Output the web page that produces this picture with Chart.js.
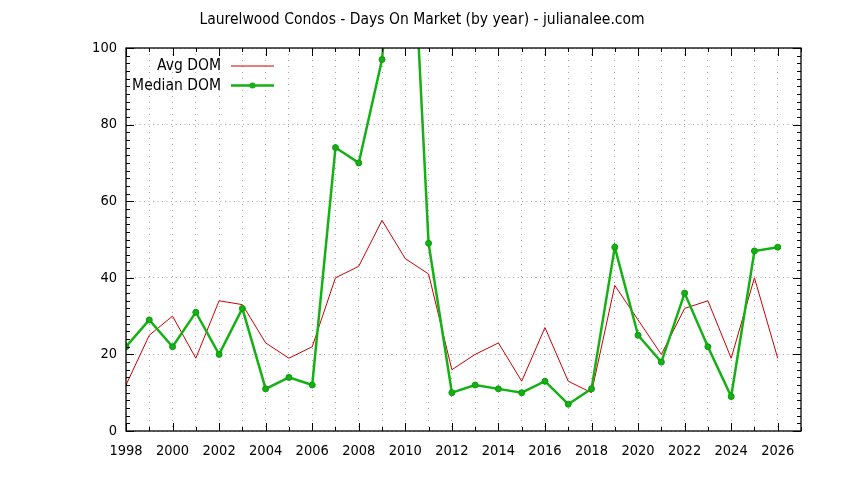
<!DOCTYPE html>
<html>
<head>
<meta charset="utf-8">
<title>Laurelwood Condos - Days On Market</title>
<script src="https://cdn.jsdelivr.net/npm/chart.js@4.4.1/dist/chart.umd.min.js"></script>
<style>
  html, body { margin: 0; padding: 0; background: #fff; }
  canvas { display: block; }
</style>
</head>
<body>
<canvas id="domChart" width="844" height="480"></canvas>
<script>
// values
const years = [1998, 1999, 2000, 2001, 2002, 2003, 2004, 2005, 2006, 2007, 2008, 2009, 2010, 2011,
  2012, 2013, 2014, 2015, 2016, 2017, 2018, 2019, 2020, 2021, 2022, 2023, 2024, 2025, 2026];
const avgDom = [12, 25, 30, 19, 34, 33, 23, 19, 22, 40, 43, 55, 45, 41,
  16, 20, 23, 13, 27, 13, 10, 38, 29, 20, 32, 34, 19, 40, 19];
const medianDom = [22, 29, 22, 31, 20, 32, 11, 14, 12, 74, 70, 97, 170, 49,
  10, 12, 11, 10, 13, 7, 11, 48, 25, 18, 36, 22, 9, 47, 48];
const xTickLabels = [1998, 2000, 2002, 2004, 2006, 2008, 2010, 2012, 2014, 2016, 2018, 2020, 2022, 2024, 2026];
const yTickLabels = [0, 20, 40, 60, 80, 100];
const seriesNames = ["Avg DOM", "Median DOM"];

const FONT = '"DejaVu Sans Condensed", "DejaVu Sans", sans-serif';
const RED = "#cc0000";
const GREEN = "#14b014";

// gnuplot-style frame with inward major/minor tics on all sides
const frameTics = {
  id: "frameTics",
  afterDatasetsDraw(chart) {
    const ctx = chart.ctx;
    const a = chart.chartArea;
    const xs = chart.scales.x, ys = chart.scales.y;
    ctx.save();
    ctx.strokeStyle = "#000";
    ctx.lineWidth = 1;
    ctx.beginPath();
    for (let yr = xs.min; yr <= xs.max; yr++) {
      const px = Math.round(xs.getPixelForValue(yr)) + 0.5;
      const len = xTickLabels.includes(yr) ? 8 : 4;
      ctx.moveTo(px, a.bottom); ctx.lineTo(px, a.bottom - len);
      ctx.moveTo(px, a.top); ctx.lineTo(px, a.top + len);
    }
    for (let v = 0; v <= 100; v += 2) {
      const py = Math.round(ys.getPixelForValue(v)) + 0.5;
      const len = v % 20 === 0 ? 8 : 4;
      ctx.moveTo(a.left, py); ctx.lineTo(a.left + len, py);
      ctx.moveTo(a.right, py); ctx.lineTo(a.right - len, py);
    }
    ctx.stroke();
    ctx.lineWidth = 1.3;
    ctx.strokeRect(a.left, a.top, a.right - a.left, a.bottom - a.top);

    // key, top left inside the plot
    ctx.font = "15.5px " + FONT;
    ctx.textAlign = "right";
    ctx.textBaseline = "middle";
    ctx.fillStyle = "#000";
    const kx = a.left + 95, lx0 = a.left + 105, lx1 = a.left + 148;
    const rows = [a.top + 18, a.top + 37.5];
    ctx.fillText(seriesNames[0], kx, rows[0]);
    ctx.fillText(seriesNames[1], kx, rows[1]);
    ctx.lineWidth = 1;
    ctx.strokeStyle = RED;
    ctx.beginPath(); ctx.moveTo(lx0, rows[0]); ctx.lineTo(lx1, rows[0]); ctx.stroke();
    ctx.lineWidth = 2.5;
    ctx.strokeStyle = GREEN;
    ctx.beginPath(); ctx.moveTo(lx0, rows[1]); ctx.lineTo(lx1, rows[1]); ctx.stroke();
    ctx.fillStyle = GREEN;
    ctx.beginPath(); ctx.arc((lx0 + lx1) / 2, rows[1], 3, 0, Math.PI * 2); ctx.fill();
    ctx.restore();
  }
};

const data = {
  datasets: [
    {
      label: seriesNames[0],
      data: years.map((y, i) => ({ x: y, y: avgDom[i] })),
      borderColor: RED,
      borderWidth: 1,
      pointRadius: 0,
      tension: 0,
      order: 2
    },
    {
      label: seriesNames[1],
      data: years.map((y, i) => ({ x: y, y: medianDom[i] })),
      borderColor: GREEN,
      backgroundColor: GREEN,
      borderWidth: 2.5,
      pointRadius: 3,
      pointBorderWidth: 1,
      pointBorderColor: "#0c9a0c",
      tension: 0,
      order: 1
    }
  ]
};

const config = {
  type: "line",
  data: data,
  options: {
    responsive: false,
    animation: false,
    layout: { padding: 0 },
    plugins: {
      legend: { display: false },
      tooltip: { enabled: false },
      title: {
        display: true,
        text: "Laurelwood Condos - Days On Market (by year) - julianalee.com",
        color: "#000",
        font: { family: FONT, size: 15.5, weight: "normal", lineHeight: 1.2 },
        padding: { top: 10.2, bottom: 19.2 }
      }
    },
    scales: {
      x: {
        type: "linear",
        min: 1998,
        max: 2027,
        afterBuildTicks(scale) {
          scale.ticks = years.map(v => ({ value: v }));
        },
        afterFit(scale) { scale.height = 49; },
        ticks: {
          autoSkip: false,
          maxRotation: 0,
          padding: 12,
          color: "#000",
          font: { family: FONT, size: 14.5 },
          callback: v => (xTickLabels.includes(v) ? String(v) : "")
        },
        grid: { color: "#a8a8a8", lineWidth: 1, drawTicks: false },
        border: { display: false, dash: [1, 5] }
      },
      y: {
        min: 0,
        max: 100,
        afterBuildTicks(scale) {
          scale.ticks = yTickLabels.map(v => ({ value: v }));
        },
        afterFit(scale) { scale.width = 126; },
        ticks: {
          padding: 9,
          color: "#000",
          font: { family: FONT, size: 14.5 }
        },
        grid: { color: "#a8a8a8", lineWidth: 1, drawTicks: false },
        border: { display: false, dash: [1, 3.5] }
      },
      // empty right margin, keeps the title centred on the whole page
      yRight: {
        position: "right",
        min: 0,
        max: 100,
        afterFit(scale) { scale.width = 43; },
        ticks: { display: false },
        grid: { display: false },
        border: { display: false }
      }
    }
  },
  plugins: [frameTics]
};

new Chart(document.getElementById("domChart"), config);
</script>
</body>
</html>
